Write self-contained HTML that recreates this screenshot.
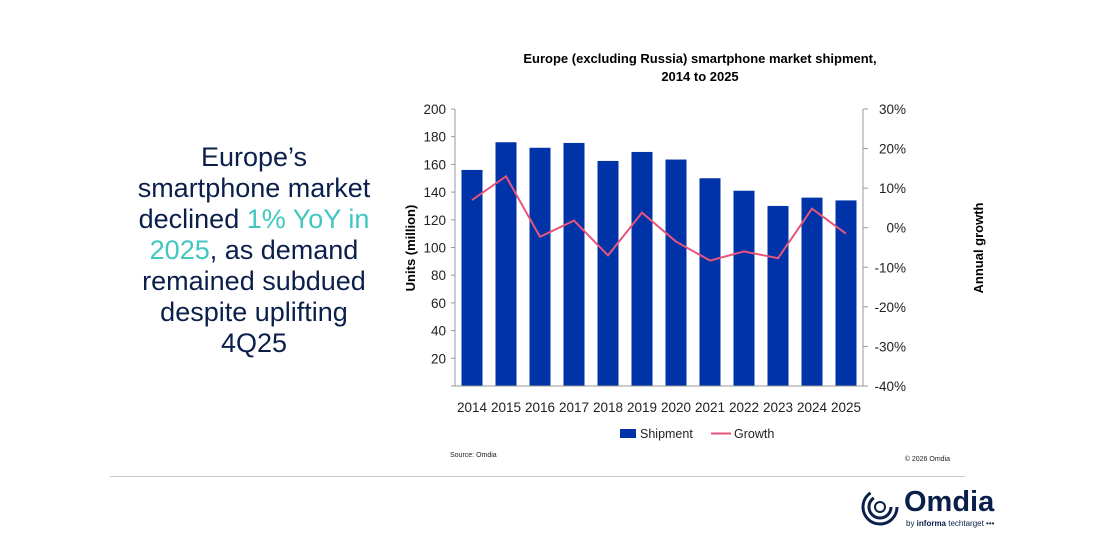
<!DOCTYPE html>
<html><head><meta charset="utf-8"><style>
body{margin:0;width:1100px;height:551px;background:#fff;font-family:"Liberation Sans",sans-serif;overflow:hidden;position:relative}
.head{position:absolute;left:94px;width:320px;top:142px;text-align:center;font-size:27px;line-height:31px;color:#0b1f4b;white-space:nowrap}
.hl{color:#3fc7c0}
</style></head><body>
<div class="head">Europe’s<br>smartphone market<br>declined <span class="hl">1% YoY in<br>2025</span>, as demand<br>remained subdued<br>despite uplifting<br>4Q25</div>
<svg id="c" width="1100" height="551" style="position:absolute;left:0;top:0"></svg>
<div style="position:absolute;left:110px;top:476px;width:855px;height:1px;background:#c8c8c8"></div>
<div style="position:absolute;left:860px;top:486px">
<svg width="42" height="42" style="position:absolute;left:0;top:0"><circle cx="20" cy="21" r="17" fill="none" stroke="#0b1f4b" stroke-width="3" stroke-dasharray="70 40"/><circle cx="20" cy="21" r="11" fill="none" stroke="#0b1f4b" stroke-width="3" stroke-dasharray="45 25"/><circle cx="20" cy="21" r="5" fill="none" stroke="#0b1f4b" stroke-width="2"/></svg>
<div style="position:absolute;left:44px;top:0;font-size:29px;font-weight:bold;color:#0b1f4b">Omdia</div>
<div style="position:absolute;left:46px;top:33px;font-size:8px;color:#0b1f4b;white-space:nowrap">by <b>informa</b> techtarget •••</div>
</div>
<script>
const years=["2014","2015","2016","2017","2018","2019","2020","2021","2022","2023","2024","2025"];
const shipments=[156,176,172,175.5,162.5,169,163.5,150,141,130,136,134];
const growth=[7,13,-2.3,1.8,-7,3.8,-3.5,-8.3,-6,-7.7,4.8,-1.5];
const leftTicks=[20,40,60,80,100,120,140,160,180,200];
const rightTicks=[-40,-30,-20,-10,0,10,20,30];
const NS="http://www.w3.org/2000/svg";
const svg=document.getElementById('c');
const X0=455,X1=863,Y0=386,Y1=109;
const bw=(X1-X0)/years.length;
const xc=i=>X0+bw*(i+0.5);
const yL=v=>Y0-(v/200)*(Y0-Y1);
const yR=v=>Y0-((v+40)/70)*(Y0-Y1);
function el(t,a,txt){const e=document.createElementNS(NS,t);for(const k in a)e.setAttribute(k,a[k]);if(txt!==undefined)e.textContent=txt;svg.appendChild(e);return e;}
let t=el('text',{x:700,y:63,'text-anchor':'middle','font-size':13,'font-weight':'bold',fill:'#000'},'Europe (excluding Russia) smartphone market shipment,');


t=el('text',{x:700,y:81,'text-anchor':'middle','font-size':13,'font-weight':'bold',fill:'#000'},'2014 to 2025');


shipments.forEach((v,i)=>{
 const r=el('rect',{x:xc(i)-10.5,y:yL(v),width:21,height:Y0-yL(v),fill:'#0033a8'});
 
 
 const l=el('text',{x:xc(i),y:412,'text-anchor':'middle','font-size':13.5,fill:'#222'},years[i]);
 
 
});
el('line',{x1:X0,y1:Y1,x2:X0,y2:Y0,stroke:'#999'});
el('line',{x1:X0,y1:Y0,x2:X1,y2:Y0,stroke:'#999'});
el('line',{x1:X1,y1:Y1,x2:X1,y2:Y0,stroke:'#999'});
[0].concat(leftTicks).forEach(v=>{
 el('line',{x1:X0-4,y1:yL(v),x2:X0,y2:yL(v),stroke:'#999'});
 if(v>0){const l=el('text',{x:446,y:yL(v)+5,'text-anchor':'end','font-size':13.5,fill:'#222'},v);
 
 }
});
rightTicks.forEach(v=>{
 el('line',{x1:X1,y1:yR(v),x2:X1+5,y2:yR(v),stroke:'#999'});
 const l=el('text',{x:906,y:yR(v)+5,'text-anchor':'end','font-size':13.5,fill:'#222'},v+'%');
 
 
});
const pl=el('polyline',{points:growth.map((g,i)=>xc(i)+','+yR(g)).join(' '),fill:'none',stroke:'#e8557a','stroke-width':2});


t=el('text',{transform:'translate(415,248) rotate(-90)','text-anchor':'middle','font-size':13,'font-weight':'bold',fill:'#000'},'Units (million)');


t=el('text',{transform:'translate(983,248) rotate(-90)','text-anchor':'middle','font-size':13,'font-weight':'bold',fill:'#000'},'Annual growth');


let r=el('rect',{x:620,y:429,width:16,height:9,fill:'#0033a8'});


t=el('text',{x:640,y:438,'font-size':12.5,fill:'#222'},'Shipment');


r=el('line',{x1:711,y1:433.5,x2:731,y2:433.5,stroke:'#e8557a','stroke-width':2});


t=el('text',{x:734,y:438,'font-size':12.5,fill:'#222'},'Growth');


t=el('text',{x:450,y:457,'font-size':7,fill:'#222'},'Source: Omdia');


t=el('text',{x:950,y:461,'text-anchor':'end','font-size':7,fill:'#222'},'© 2026 Omdia');


</script>
</body></html>
